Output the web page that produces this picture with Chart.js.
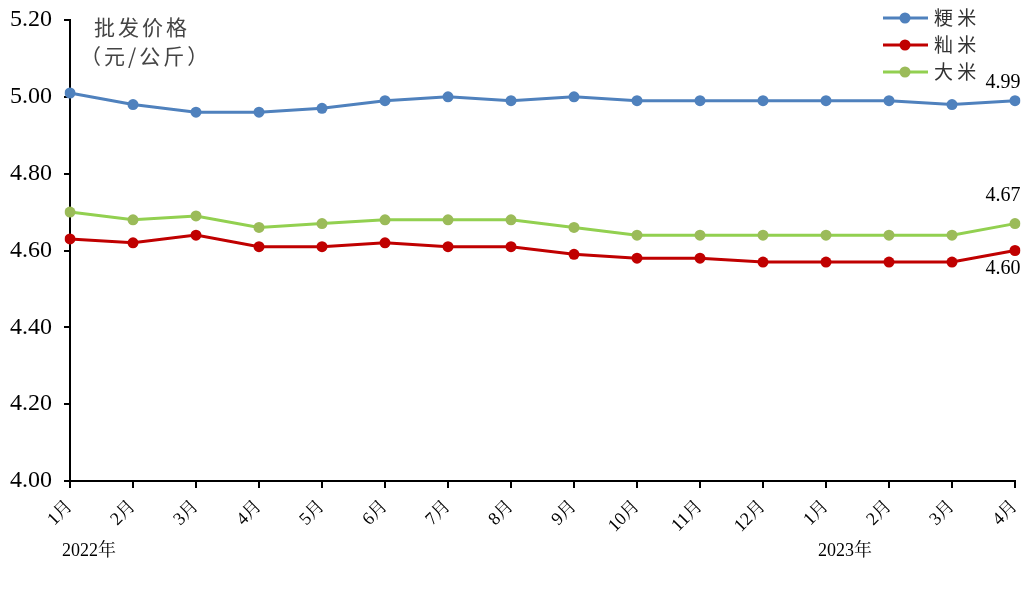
<!DOCTYPE html>
<html>
<head>
<meta charset="utf-8">
<script src="https://cdn.jsdelivr.net/npm/chart.js@4.4.1/dist/chart.umd.min.js"></script>
<style>
  html, body { margin: 0; padding: 0; background: #fff; }
  #wrap { width: 1031px; height: 594px; }
</style>
</head>
<body>
<div id="wrap"><canvas id="chart"></canvas></div>
<script>
const months = ['1月', '2月', '3月', '4月', '5月', '6月', '7月', '8月', '9月', '10月', '11月', '12月', '1月', '2月', '3月', '4月'];
const years = [{ index: 0, text: '2022年' }, { index: 12, text: '2023年' }];
const jingmi = [5.01, 4.98, 4.96, 4.96, 4.97, 4.99, 5.00, 4.99, 5.00, 4.99, 4.99, 4.99, 4.99, 4.99, 4.98, 4.99];
const xianmi = [4.63, 4.62, 4.64, 4.61, 4.61, 4.62, 4.61, 4.61, 4.59, 4.58, 4.58, 4.57, 4.57, 4.57, 4.57, 4.60];
const dami = [4.70, 4.68, 4.69, 4.66, 4.67, 4.68, 4.68, 4.68, 4.66, 4.64, 4.64, 4.64, 4.64, 4.64, 4.64, 4.67];

const serif = '"Liberation Serif", "Times New Roman", "Noto Serif CJK SC", "Noto Sans CJK SC", serif';

// title, year labels, legend and end labels
const extras = {
  id: 'extras',
  afterDraw(chart) {
    const ctx = chart.ctx;
    const x = chart.scales.x, y = chart.scales.y;
    ctx.save();
    ctx.fillStyle = '#444';
    ctx.font = '21px "Noto Sans CJK SC", sans-serif';
    ctx.textAlign = 'left';
    ctx.textBaseline = 'middle';
    ctx.letterSpacing = '3px';
    ctx.fillText('批发价格', 94, 27);
    ctx.fillText('（元/公斤）', 80, 56);
    ctx.letterSpacing = '0px';

    ctx.fillStyle = '#000';
    ctx.font = '18px ' + serif;
    years.forEach(yr => {
      ctx.textAlign = 'left';
      ctx.fillText(yr.text, x.getPixelForValue(yr.index) - 8, 551);
    });

    // legend
    chart.data.datasets.forEach((ds, i) => {
      const ly = 18 + i * 27;
      ctx.strokeStyle = ds.borderColor;
      ctx.lineWidth = 3;
      ctx.beginPath();
      ctx.moveTo(883, ly);
      ctx.lineTo(928, ly);
      ctx.stroke();
      ctx.fillStyle = ds.pointBackgroundColor;
      ctx.beginPath();
      ctx.arc(905, ly, 5.5, 0, Math.PI * 2);
      ctx.fill();
      ctx.fillStyle = '#333';
      ctx.font = '19px "Noto Sans CJK SC", sans-serif';
      ctx.textAlign = 'left';
      ctx.fillText(ds.label.split('').join(' '), 934, ly);
    });

    // last-point labels
    ctx.fillStyle = '#000';
    ctx.font = '20px ' + serif;
    ctx.textAlign = 'center';
    const last = months.length - 1;
    const lx = x.getPixelForValue(last) - 12;
    ctx.fillText(jingmi[last].toFixed(2), lx, y.getPixelForValue(jingmi[last]) - 18);
    ctx.fillText(dami[last].toFixed(2), lx, y.getPixelForValue(dami[last]) - 28);
    ctx.fillText(xianmi[last].toFixed(2), lx, y.getPixelForValue(xianmi[last]) + 18);
    ctx.restore();
  }
};

new Chart(document.getElementById('chart'), {
  type: 'line',
  data: {
    labels: months,
    datasets: [
      { label: '粳米', data: jingmi, borderColor: '#4F81BD', pointBackgroundColor: '#4F81BD', pointBorderColor: '#4F81BD' },
      { label: '籼米', data: xianmi, borderColor: '#C00000', pointBackgroundColor: '#C00000', pointBorderColor: '#C00000' },
      { label: '大米', data: dami, borderColor: '#92D050', pointBackgroundColor: '#9BBB59', pointBorderColor: '#9BBB59' }
    ]
  },
  options: {
    responsive: true,
    maintainAspectRatio: false,
    animation: false,
    layout: { padding: { top: 20, right: 16, left: 0, bottom: 0 } },
    elements: {
      line: { borderWidth: 3, tension: 0 },
      point: { radius: 5.5, borderWidth: 0, hoverRadius: 5.5 }
    },
    plugins: { legend: { display: false }, tooltip: { enabled: false } },
    scales: {
      x: {
        offset: false,
        afterFit(s) { s.height = 113; s.paddingLeft = 0; s.paddingRight = 0; },
        grid: { display: true, drawOnChartArea: false, drawTicks: true, tickLength: 7, color: '#000', lineWidth: 2 },
        border: { display: true, color: '#000', width: 2 },
        ticks: { color: '#000', font: { size: 18, family: serif }, minRotation: 45, maxRotation: 45, padding: 8, autoSkip: false }
      },
      y: {
        min: 4.00,
        max: 5.20,
        afterFit(s) { s.width = 70; s.paddingTop = 0; s.paddingBottom = 0; },
        grid: { display: true, drawOnChartArea: false, drawTicks: true, tickLength: 6, color: '#000', lineWidth: 2 },
        border: { display: true, color: '#000', width: 2 },
        ticks: { stepSize: 0.2, color: '#000', font: { size: 24, family: serif }, padding: 12, callback: v => v.toFixed(2) }
      }
    }
  },
  plugins: [extras]
});
</script>
</body>
</html>
